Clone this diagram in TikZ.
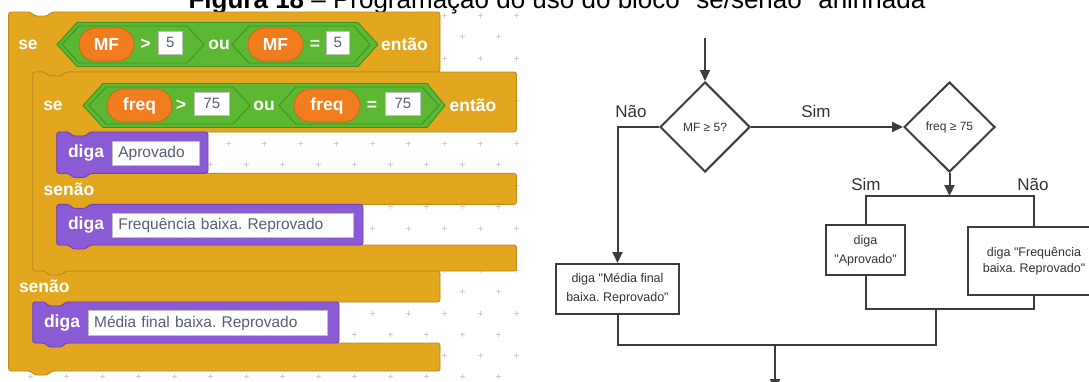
\documentclass[tikz,border=0pt]{standalone}
\usepackage{fontspec}
\newfontfamily\lsans{Liberation Sans}
\usetikzlibrary{arrows.meta,shapes.geometric,shapes.misc}
\definecolor{ctrl}{HTML}{E2A71E}
\definecolor{ctrlD}{HTML}{BF8A17}
\definecolor{opG}{HTML}{5CB832}
\definecolor{opGD}{HTML}{3E8F24}
\definecolor{varO}{HTML}{F27D1E}
\definecolor{varOD}{HTML}{D9650F}
\definecolor{looks}{HTML}{8B5BD6}
\definecolor{looksD}{HTML}{6E42B8}
\definecolor{fline}{HTML}{3C3C3C}
\definecolor{ftext}{HTML}{333333}
\definecolor{gridc}{HTML}{CFCFCF}
\definecolor{fieldtxt}{HTML}{575E75}
\newcommand\sbhex[7]{\path[#1] (#2,#6) -- (#3,{#6-#7}) -- (#4,{#6-#7}) -- (#5,#6) -- (#4,{#6+#7}) -- (#3,{#6+#7}) -- cycle;}
\newcommand\sbdiga[4]{\path[looksblk] (#1,#2) -- ({#1+12},#2) -- ({#1+16},{#2+4}) -- ({#1+29},{#2+4}) -- ({#1+33},#2) -- (#3,#2) -- (#3,#4) -- ({#1+33},#4) -- ({#1+29},{#4+4}) -- ({#1+16},{#4+4}) -- ({#1+12},#4) -- (#1,#4) -- cycle;}
\frenchspacing
\begin{document}
\frenchspacing
\begin{tikzpicture}[x=1pt,y=-1pt,
  ctrlblk/.style={fill=ctrl,draw=ctrlD,line width=0.9pt,rounded corners=2.5pt,line join=round},
  looksblk/.style={fill=looks,draw=looksD,line width=0.9pt,rounded corners=2.5pt,line join=round},
  hexout/.style={fill=opG,draw=opGD,line width=0.9pt,line join=round},
  hexin/.style={fill=opG,draw=opGD,line width=0.8pt,line join=round},
  lbl/.style={text=white,font=\lsans\bfseries\fontsize{17.5}{20}\selectfont,inner sep=0pt},
  pill/.style={rounded rectangle,fill=varO,draw=varOD,line width=0.8pt,minimum height=33pt,inner sep=0pt,text=white,font=\lsans\bfseries\fontsize{17.5}{20}\selectfont},
  numbox/.style={fill=white,draw=black!25,line width=0.6pt,inner sep=0pt,text=fieldtxt,font=\lsans\fontsize{15}{18}\selectfont},
  field/.style={fill=white,draw=black!25,line width=0.6pt,inner xsep=6pt,inner ysep=0pt,anchor=west,align=left,text=fieldtxt,font=\lsans\fontsize{15.5}{18}\selectfont},
  fbox/.style={draw=fline,line width=2pt,fill=white,inner sep=0pt,align=center,text=ftext,font=\lsans\fontsize{12.5}{19}\selectfont},
  fdia/.style={diamond,aspect=1,draw=fline,line width=2pt,fill=white,inner sep=0pt,text=ftext,font=\lsans\fontsize{12}{14}\selectfont},
  flbl/.style={text=ftext,inner sep=0pt,font=\lsans\fontsize{17}{20}\selectfont},
  ln/.style={draw=fline,line width=2pt},
  arr/.style={ln,-{Triangle[length=11pt,width=10pt]}}]
\useasboundingbox (0,0) rectangle (1089,381);
\clip (0,0) rectangle (1089,381);
\fill[white] (0,0) rectangle (1089,381);
% background grid
\foreach \j in {0,...,17}{
  \pgfmathsetmacro\yy{15.5+21.25*\j}
  \pgfmathsetmacro\xo{ifthenelse(mod(\j,2)==0,12,30)}
  \pgfmathsetmacro\imax{ifthenelse(mod(\j,2)==0,14,13)}
  \foreach \i in {0,...,\imax}{
    \pgfmathsetmacro\xx{\xo+36*\i}
    \draw[gridc,line width=0.9pt] (\xx-2.5,\yy) -- (\xx+2.5,\yy) (\xx,\yy-2.5) -- (\xx,\yy+2.5);
  }
}
% title (cut at the top)
\node[anchor=base,inner sep=0pt,font=\lsans\fontsize{26}{30}\selectfont] (title) at (557,8.5) {\textbf{Figura 18} – Programação do uso do bloco "se/senão" aninhada};
% outer if/else block
\path[ctrlblk] (8.6,12) -- (30.6,12) -- (34.6,16) -- (47.6,16) -- (51.6,12) -- (440,12) -- (440,72) -- (65.7,72) -- (61.7,76) -- (48.7,76) -- (44.7,72) -- (32.7,72) -- (32.7,271) -- (440,271) -- (440,302) -- (65.7,302) -- (61.7,306) -- (48.7,306) -- (44.7,302) -- (32.7,302) -- (32.7,343) -- (440,343) -- (440,371) -- (51.6,371) -- (47.6,375) -- (34.6,375) -- (30.6,371) -- (8.6,371) -- cycle;
% inner if/else block
\path[ctrlblk] (32.7,72) -- (44.7,72) -- (48.7,76) -- (61.7,76) -- (65.7,72) -- (516.5,72) -- (516.5,132) -- (89.8,132) -- (85.8,136) -- (72.8,136) -- (68.8,132) -- (56.8,132) -- (56.8,173.4) -- (516.5,173.4) -- (516.5,204.4) -- (89.8,204.4) -- (85.8,208.4) -- (72.8,208.4) -- (68.8,204.4) -- (56.8,204.4) -- (56.8,245) -- (516.5,245) -- (516.5,271) -- (65.7,271) -- (61.7,275) -- (48.7,275) -- (44.7,271) -- (32.7,271) -- cycle;
% say blocks
\sbdiga{56.8}{132}{208}{173.4}
\sbdiga{56.8}{204.4}{363}{245}
\sbdiga{32.7}{302}{339}{343}
% condition 1
\sbhex{hexout}{57}{77}{358}{378}{44.5}{22}
\sbhex{hexin}{62}{79}{187}{204}{44.5}{18.5}
\sbhex{hexin}{232}{249}{354}{370}{44.5}{18.5}
% condition 2
\sbhex{hexout}{83}{103}{427}{445}{105.5}{22}
\sbhex{hexin}{89}{106}{233}{250}{105.5}{18.5}
\sbhex{hexin}{279}{296}{422}{439}{105.5}{18.5}
% labels row 1
\node[lbl] (se1) at (28,44.5) {se};
\node[pill,minimum width=55pt] (mf1) at (106.5,44.5) {MF};
\node[lbl] (gt1) at (145.5,44.5) {>};
\node[numbox,minimum width=24.5pt,minimum height=23pt] (n1) at (170.25,42.5) {5};
\node[lbl] (ou1) at (219,44.5) {ou};
\node[pill,minimum width=55pt] (mf2) at (275.5,44.5) {MF};
\node[lbl] (eq1) at (315,44.5) {=};
\node[numbox,minimum width=23.5pt,minimum height=23pt] (n2) at (337.75,42.5) {5};
\node[lbl] (entao1) at (404.5,44.5) {então};
% labels row 2
\node[lbl] (se2) at (53,105.5) {se};
\node[pill,minimum width=65pt] (fq1) at (139.5,105.5) {freq};
\node[lbl] (gt2) at (181,105.5) {>};
\node[numbox,minimum width=34.5pt,minimum height=23pt] (n3) at (211.75,103.5) {75};
\node[lbl] (ou2) at (264,105.5) {ou};
\node[pill,minimum width=66pt] (fq2) at (327,105.5) {freq};
\node[lbl] (eq2) at (372,105.5) {=};
\node[numbox,minimum width=34.3pt,minimum height=23pt] (n4) at (402.85,103.5) {75};
\node[lbl] (entao2) at (473,105.5) {então};
% say rows
\node[lbl] (diga1) at (86,153) {diga};
\node[field,minimum width=87pt,minimum height=24.5pt,text width=75pt] (fa) at (112,153.25) {Aprovado};
\node[lbl] (senao2) at (69,189.5) {senão};
\node[lbl] (diga2) at (86,225) {diga};
\node[field,minimum width=241pt,minimum height=23.5pt,text width=229pt] (ff) at (112,225.35) {Frequência baixa. Reprovado};
\node[lbl] (senao1) at (44.3,286.5) {senão};
\node[lbl] (diga3) at (62,323) {diga};
\node[field,minimum width=239pt,minimum height=25pt,text width=227pt] (fm) at (87.8,323.15) {Média final baixa. Reprovado};
% ---------------- flowchart ----------------
\coordinate (start) at (705,38);
\node[fdia,minimum width=90pt,minimum height=90pt] (d1) at (705,127) {MF ≥ 5?};
\node[fdia,minimum width=91pt,minimum height=90pt] (d2) at (949.5,127) {freq ≥ 75};
\node[fbox,minimum width=123pt,minimum height=50pt] (bm) at (617.5,289) {diga "Média final\\baixa. Reprovado"};
\node[fbox,minimum width=79pt,minimum height=50pt] (ba) at (865.5,250.3) {diga\\"Aprovado"};
\node[fbox,minimum width=132pt,minimum height=67.5pt,font=\lsans\fontsize{12.5}{16}\selectfont] (bf) at (1034,260.8) {diga "Frequência\\baixa. Reprovado"};
\node[flbl] (nao1) at (631,111) {Não};
\node[flbl] (sim1) at (816,111) {Sim};
\node[flbl] (sim2) at (866,184) {Sim};
\node[flbl] (nao2) at (1033,184) {Não};
\coordinate (split) at (949.5,196);
\coordinate (m1) at (936,309);
\coordinate (m2) at (775,345);
\coordinate (finish) at (775,390);
\draw[arr] (start) -- (d1.north);
\draw[arr] (d1.west) -| (bm.north);
\draw[arr] (d1.east) -- (d2.west);
\draw[arr] (d2.south) -- (split);
\draw[ln] (ba.north) -- (ba.north |- split) -- (bf.north |- split) -- (bf.north);
\draw[ln] (ba.south) -- (ba.south |- m1) -- (bf.south |- m1) -- (bf.south);
\draw[ln] (m1) -- (m1 |- m2) -- (bm.south |- m2) -- (bm.south);
\draw[arr] (m2) -- (finish);
\end{tikzpicture}
\end{document}
